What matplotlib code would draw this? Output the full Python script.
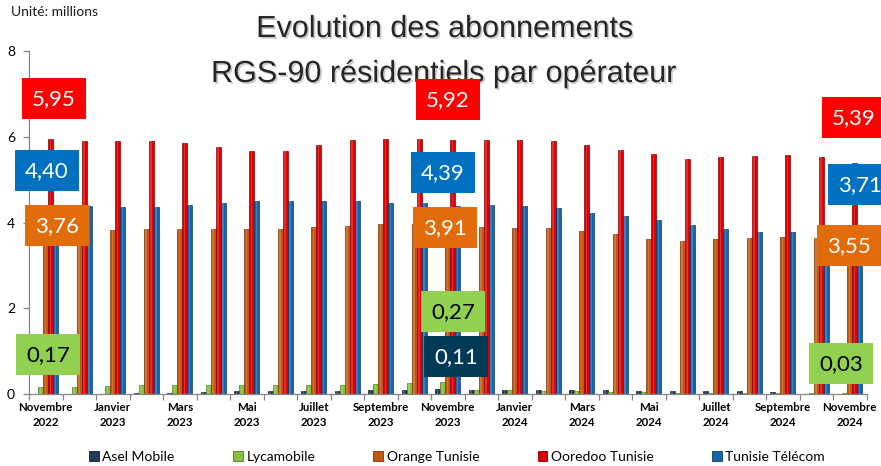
import matplotlib
matplotlib.use("Agg")
import matplotlib.pyplot as plt
import matplotlib.patheffects as pe
from matplotlib.patches import Rectangle, Patch
import numpy as np

months = ["Novembre\n2022", "Décembre\n2022", "Janvier\n2023", "Février\n2023", "Mars\n2023",
          "Avril\n2023", "Mai\n2023", "Juin\n2023", "Juillet\n2023", "Août\n2023",
          "Septembre\n2023", "Octobre\n2023", "Novembre\n2023", "Décembre\n2023", "Janvier\n2024",
          "Février\n2024", "Mars\n2024", "Avril\n2024", "Mai\n2024", "Juin\n2024",
          "Juillet\n2024", "Août\n2024", "Septembre\n2024", "Octobre\n2024", "Novembre\n2024"]

operators = ["Asel Mobile", "Lycamobile", "Orange Tunisie", "Ooredoo Tunisie", "Tunisie Télécom"]

asel = [0.00, 0.00, 0.01, 0.02, 0.03, 0.05, 0.06, 0.07, 0.07, 0.08, 0.09, 0.10, 0.11,
        0.10, 0.10, 0.10, 0.09, 0.09, 0.08, 0.07, 0.07, 0.06, 0.05, 0.00, 0.00]
lyca = [0.17, 0.17, 0.19, 0.20, 0.20, 0.20, 0.21, 0.21, 0.21, 0.22, 0.24, 0.26, 0.27,
        0.09, 0.09, 0.08, 0.07, 0.05, 0.04, 0.03, 0.02, 0.02, 0.02, 0.02, 0.03]
orange = [3.76, 3.78, 3.82, 3.85, 3.85, 3.85, 3.85, 3.85, 3.90, 3.92, 3.96, 3.96, 3.91,
          3.90, 3.88, 3.88, 3.81, 3.74, 3.62, 3.58, 3.61, 3.65, 3.67, 3.64, 3.55]
ooredoo = [5.95, 5.91, 5.91, 5.91, 5.86, 5.75, 5.67, 5.67, 5.80, 5.92, 5.94, 5.95, 5.92,
           5.93, 5.92, 5.89, 5.80, 5.69, 5.59, 5.49, 5.52, 5.54, 5.58, 5.52, 5.39]
tt = [4.40, 4.38, 4.35, 4.37, 4.40, 4.45, 4.49, 4.50, 4.51, 4.51, 4.46, 4.46, 4.39,
      4.41, 4.38, 4.33, 4.22, 4.15, 4.06, 3.95, 3.84, 3.79, 3.79, 3.75, 3.71]

series = [asel, lyca, orange, ooredoo, tt]
bar_colors = ["#22395A", "#86C040", "#C4580F", "#E00000", "#1864AC"]
edge_colors = ["#111E30", "#4E7A1E", "#7A3505", "#8A0000", "#0B3C6A"]
box_colors = ["#003A57", "#92D050", "#E36C0A", "#FF0000", "#0070C0"]
box_text = ["white", "black", "white", "white", "white"]

W, H = 881, 466
fig = plt.figure(figsize=(W / 100, H / 100), dpi=100)
fig.patch.set_facecolor("white")

ax_l, ax_r, ax_t, ax_b = 29, 866.5, 51, 394
ax = fig.add_axes([ax_l / W, 1 - ax_b / H, (ax_r - ax_l) / W, (ax_b - ax_t) / H])

n = len(months)
x = np.arange(n)
bw = 0.149
for j, (vals, c, ec) in enumerate(zip(series, bar_colors, edge_colors)):
    xs = x + (j - 2) * bw
    ax.bar(xs, vals, width=bw, color=c, edgecolor=ec, linewidth=0.5, zorder=2)
    # light highlight strip to mimic the bevelled look
    ax.bar(xs - bw * 0.05, vals, width=bw * 0.3, color="white", alpha=0.18,
           linewidth=0, zorder=3)

ax.set_xlim(-0.5, n - 0.5)
ax.set_ylim(0, 8)
ax.set_yticks([0, 2, 4, 6, 8])
ax.set_yticklabels(["0", "2", "4", "6", "8"], fontsize=10, family="Lato")
ax.set_xticks(np.arange(-0.5, n, 1.0))
ax.set_xticklabels([])
ax.set_xticks(x[::2], minor=True)
ax.set_xticklabels(months[::2], minor=True, fontsize=8.3, fontweight="bold",
                   family="Lato", linespacing=1.45)
ax.tick_params(axis="x", which="major", length=4, color="#868686", width=0.9)
ax.tick_params(axis="x", which="minor", length=0, pad=6)
ax.tick_params(axis="y", length=4, color="#868686", width=0.9, pad=6)
for s in ["top", "right"]:
    ax.spines[s].set_visible(False)
for s in ["left", "bottom"]:
    ax.spines[s].set_color("#868686")
    ax.spines[s].set_linewidth(0.9)

# Title
shadow = [pe.SimplePatchShadow(offset=(1.2, -1.2), shadow_rgbFace="#888888", alpha=0.45),
          pe.Normal()]
fig.text(444 / W, 1 - 37 / H, "Evolution des abonnements", ha="center", va="baseline",
         fontsize=22, family="Liberation Sans", color="#262626", path_effects=shadow)
fig.text(443 / W, 1 - 82 / H, "RGS-90 résidentiels par opérateur", ha="center",
         va="baseline", fontsize=22, family="Liberation Sans", color="#262626",
         path_effects=shadow)

fig.text(11 / W, 1 - 12 / H, "Unité: millions", ha="left", va="center", fontsize=10,
         family="Lato", color="#1a1a1a")

# Value label boxes: (series index, month index, box left, box top) in pixels
labels = [
    (3, 0, 22, 78), (4, 0, 15, 150), (2, 0, 25, 205), (1, 0, 16, 334),
    (3, 12, 416, 79), (4, 12, 411, 152), (2, 12, 413, 207), (1, 12, 421, 291),
    (0, 12, 424, 336),
    (3, 24, 822, 97), (4, 24, 828, 164), (2, 24, 817, 225), (1, 24, 809, 343),
]
bwpx, bhpx = 64, 41
for si, mi, bx, by in labels:
    fig.patches.append(Rectangle((bx / W, 1 - (by + bhpx) / H), bwpx / W, bhpx / H,
                                 transform=fig.transFigure, facecolor=box_colors[si],
                                 edgecolor="none", zorder=5))
    txt = f"{series[si][mi]:.2f}".replace(".", ",")
    fig.text((bx + bwpx / 2) / W, 1 - (by + bhpx / 2 + 1) / H, txt, ha="center",
             va="center", fontsize=16, family="Lato", color=box_text[si], zorder=6)

handles = [Patch(facecolor=c, edgecolor=ec, linewidth=0.6)
           for c, ec in zip(bar_colors, edge_colors)]
fig.legend(handles, operators, loc="center", bbox_to_anchor=(457 / W, 1 - 457 / H),
           ncol=5, frameon=False, prop={"family": "Lato", "size": 10},
           handlelength=0.7, handleheight=0.7, handletextpad=0.25, columnspacing=4.2)

fig.savefig("out.png", dpi=100, facecolor="white")
